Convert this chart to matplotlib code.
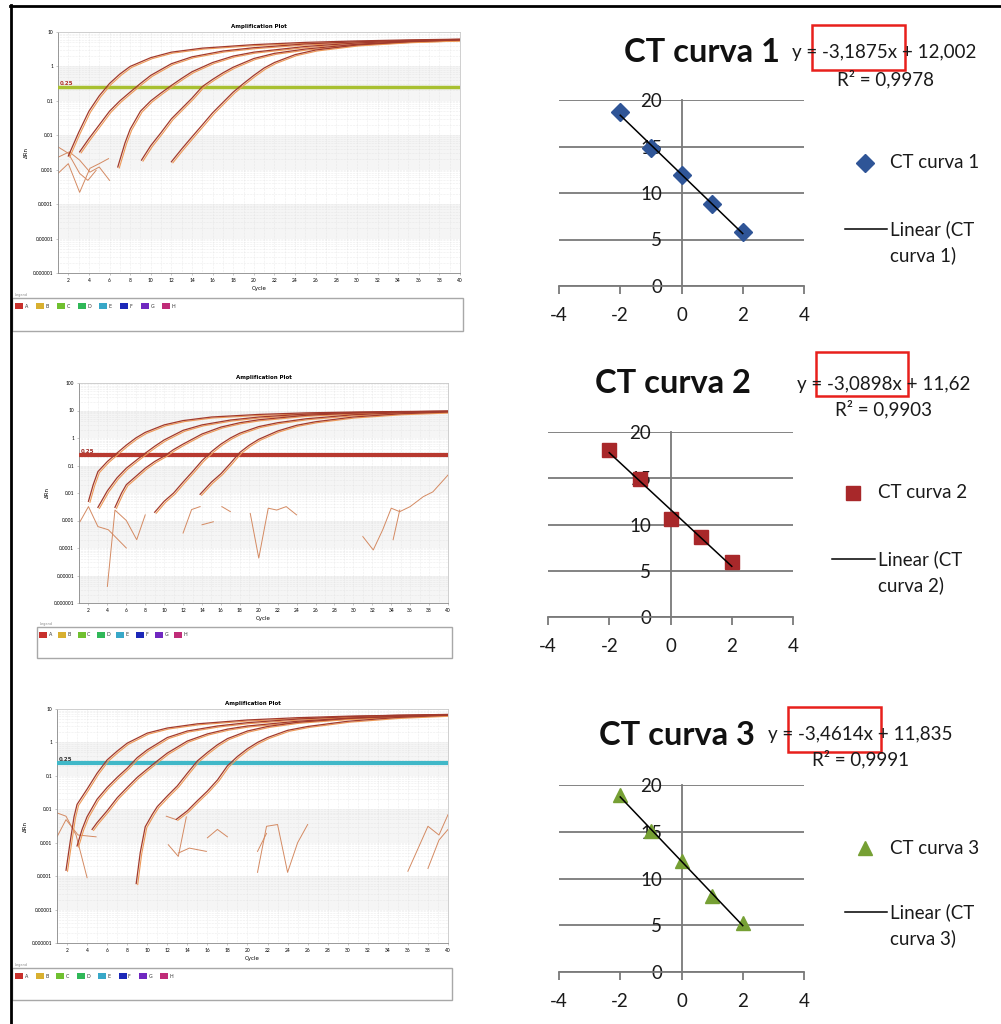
import numpy as np
import matplotlib
matplotlib.use('Agg')
import matplotlib.pyplot as plt
from matplotlib.patches import Rectangle
from matplotlib.ticker import LogLocator, NullFormatter
from matplotlib.transforms import offset_copy

plt.rcParams['font.family'] = ['Lato', 'DejaVu Sans']

W, H = 1001, 1024

# ---- amplification plot 1 (dRn vs cycle) ----
p1_c1_x = [2, 3, 4, 5, 6, 7, 8, 10, 12, 15, 20, 25, 30, 35, 40]
p1_c1_y = [0.0025, 0.012, 0.05, 0.14, 0.32, 0.6, 1.0, 1.8, 2.6, 3.4, 4.3, 5.0, 5.5, 5.9, 6.2]
p1_c2_x = [3.1, 4, 5, 6, 7, 8, 9, 10, 12, 14, 17, 20, 25, 30, 35, 40]
p1_c2_y = [0.0033, 0.008, 0.02, 0.05, 0.1, 0.18, 0.32, 0.55, 1.2, 1.9, 2.8, 3.5, 4.5, 5.2, 5.7, 6.1]
p1_c3_x = [6.8, 7.5, 8, 9, 10, 11, 12, 13, 14, 16, 18, 20, 25, 30, 35, 40]
p1_c3_y = [0.0012, 0.006, 0.015, 0.05, 0.1, 0.17, 0.28, 0.45, 0.7, 1.3, 2.0, 2.6, 3.8, 4.8, 5.5, 6.0]
p1_c4_x = [9.1, 10, 11, 12, 13, 14, 15, 16, 17, 18, 20, 22, 25, 30, 35, 40]
p1_c4_y = [0.0019, 0.005, 0.012, 0.03, 0.06, 0.12, 0.26, 0.42, 0.65, 0.95, 1.7, 2.4, 3.2, 4.4, 5.3, 5.9]
p1_c5_x = [12, 13, 14, 15, 16, 17, 18, 19, 20, 21, 22, 24, 26, 30, 35, 40]
p1_c5_y = [0.0017, 0.004, 0.009, 0.02, 0.045, 0.09, 0.18, 0.32, 0.55, 0.9, 1.3, 2.2, 3.0, 4.2, 5.2, 5.9]
p1_n1_x = [1, 2, 3.1, 3.9, 4.7]
p1_n1_y = [0.0046, 0.003, 0.00078, 0.00049, 0.00096]
p1_n2_x = [1, 2.1, 3.1, 4.1, 5.0, 6.0]
p1_n2_y = [0.0023, 0.0033, 0.0019, 0.00085, 0.0012, 0.00049]
p1_n3_x = [1, 2.0, 3.1, 4.1, 5.0, 5.9]
p1_n3_y = [0.00078, 0.0015, 0.00022, 0.0011, 0.0015, 0.0021]

# ---- amplification plot 2 ----
p2_c1_x = [2, 2.5, 3, 4, 5, 6, 7, 8, 10, 12, 15, 20, 25, 30, 35, 40]
p2_c1_y = [0.005, 0.02, 0.06, 0.14, 0.28, 0.55, 1.0, 1.6, 3.0, 4.3, 5.8, 7.2, 8.2, 8.8, 9.2, 9.5]
p2_c2_x = [3, 4, 5, 6, 7, 8, 9, 10, 12, 14, 17, 20, 25, 30, 35, 40]
p2_c2_y = [0.003, 0.012, 0.035, 0.08, 0.15, 0.28, 0.5, 0.85, 1.9, 3.0, 4.5, 5.8, 7.4, 8.4, 9.0, 9.4]
p2_c3_x = [4.8, 5.5, 6, 7, 8, 9, 10, 11, 12, 14, 16, 18, 20, 25, 30, 35, 40]
p2_c3_y = [0.003, 0.01, 0.02, 0.04, 0.08, 0.14, 0.22, 0.38, 0.6, 1.4, 2.5, 3.6, 4.6, 6.7, 8.0, 8.9, 9.4]
p2_c4_x = [9, 10, 11, 12, 13, 14, 15, 16, 17, 18, 20, 22, 25, 30, 35, 40]
p2_c4_y = [0.002, 0.005, 0.01, 0.025, 0.06, 0.15, 0.32, 0.6, 1.0, 1.5, 2.6, 3.6, 5.0, 7.0, 8.3, 9.2]
p2_c5_x = [13.8, 15, 16, 17, 18, 19, 20, 22, 24, 26, 30, 35, 40]
p2_c5_y = [0.009, 0.025, 0.05, 0.12, 0.3, 0.55, 0.9, 1.8, 2.9, 3.9, 5.8, 7.6, 8.8]
p2_n1_x = [1.1, 2.0, 3.0, 4.1, 6.0]
p2_n1_y = [0.0009, 0.0032, 0.0006, 0.00046, 0.0001]
p2_n2_x = [4.0, 4.8, 6.0, 7.1, 8.0]
p2_n2_y = [4e-6, 0.0024, 0.001, 0.0002, 0.0016]
p2_n3_x = [12.0, 12.9, 13.8]
p2_n3_y = [0.00035, 0.0025, 0.0032]
p2_n4_x = [14.0, 15.2]
p2_n4_y = [0.0007, 0.0009]
p2_n5_x = [16.1, 17.0]
p2_n5_y = [0.0032, 0.0021]
p2_n6_x = [19.1, 20.0, 21.0, 21.9, 22.9, 24.0]
p2_n6_y = [0.0018, 4.3e-5, 0.0028, 0.0024, 0.0032, 0.0016]
p2_n7_x = [31.0, 32.1, 33.1, 34.0, 34.9, 36.0, 37.4, 38.4, 40]
p2_n7_y = [0.00026, 8.5e-5, 0.00046, 0.0028, 0.0021, 0.0032, 0.0074, 0.011, 0.045]
p2_n8_x = [34.2, 34.9]
p2_n8_y = [0.0002, 0.0024]

# ---- amplification plot 3 ----
p3_c1_x = [1.9, 2.3, 2.7, 3, 4, 5, 6, 7, 8, 10, 12, 15, 20, 25, 30, 35, 40]
p3_c1_y = [0.00015, 0.001, 0.006, 0.014, 0.04, 0.12, 0.3, 0.55, 0.95, 1.9, 2.7, 3.6, 4.7, 5.5, 6.1, 6.5, 6.8]
p3_c2_x = [3, 3.5, 4, 5, 6, 7, 8, 9, 10, 12, 14, 17, 20, 25, 30, 35, 40]
p3_c2_y = [0.0008, 0.0025, 0.006, 0.02, 0.045, 0.09, 0.17, 0.35, 0.6, 1.4, 2.2, 3.1, 3.9, 5.0, 5.9, 6.5, 6.9]
p3_c3_x = [4.5, 5, 6, 7, 8, 9, 10, 11, 12, 14, 16, 18, 20, 25, 30, 35, 40]
p3_c3_y = [0.0025, 0.004, 0.009, 0.022, 0.045, 0.09, 0.16, 0.28, 0.48, 1.1, 1.8, 2.5, 3.1, 4.3, 5.3, 6.1, 6.7]
p3_c4_x = [8.9, 9.3, 9.8, 10.5, 11, 12, 13, 14, 15, 16, 17, 18, 20, 22, 25, 30, 35, 40]
p3_c4_y = [0.00006, 0.0005, 0.003, 0.007, 0.012, 0.025, 0.05, 0.12, 0.28, 0.5, 0.85, 1.3, 2.2, 3.0, 4.0, 5.2, 6.0, 6.7]
p3_c5_x = [12.9, 14, 15, 16, 17, 18, 19, 20, 21, 22, 24, 26, 30, 35, 40]
p3_c5_y = [0.005, 0.009, 0.018, 0.035, 0.075, 0.2, 0.38, 0.65, 1.0, 1.4, 2.3, 3.0, 4.3, 5.6, 6.5]
p3_n1_x = [1, 1.9, 2.9, 4.0]
p3_n1_y = [0.0078, 0.0062, 0.0017, 9e-5]
p3_n2_x = [1, 1.9, 3.1, 4.9]
p3_n2_y = [0.0015, 0.0049, 0.0017, 0.0015]
p3_n3_x = [12.1, 13.1, 13.9]
p3_n3_y = [0.00087, 0.00039, 0.0059]
p3_n4_x = [11.9, 12.9]
p3_n4_y = [0.0062, 0.0049]
p3_n5_x = [13.1, 14.2, 15.9]
p3_n5_y = [0.00049, 0.00069, 0.00055]
p3_n6_x = [16.0, 17.0, 18.0]
p3_n6_y = [0.0014, 0.0025, 0.0015]
p3_n7_x = [21.0, 21.9, 23.0, 24.0, 25.0, 26.0]
p3_n7_y = [0.00013, 0.0031, 0.0035, 0.00013, 0.001, 0.0035]
p3_n8_x = [21.0, 21.9]
p3_n8_y = [0.00055, 0.0019]
p3_n9_x = [36.0, 38.0, 39.1, 40]
p3_n9_y = [0.00014, 0.0031, 0.0017, 0.0069]
p3_n10_x = [38.0, 39.1, 40]
p3_n10_y = [0.00017, 0.0012, 0.0025]

threshold = 0.25
well_letters = ['A', 'B', 'C', 'D', 'E', 'F', 'G', 'H']
well_colors = ['#c8302c', '#d8b030', '#70c030', '#30b858', '#38a8c8', '#1c28b8', '#7028c0', '#c02c78']

# ---- standard curves (CT vs log dilution) ----
log_dil = np.array([-2, -1, 0, 1, 2])
ct1 = np.array([18.7, 14.8, 11.9, 8.8, 5.8])
ct2 = np.array([18.1, 14.9, 10.6, 8.6, 5.9])
ct3 = np.array([18.9, 15.1, 11.9, 8.1, 5.2])
eq_texts = ['y = -3,1875x + 12,002', 'y = -3,0898x + 11,62', 'y = -3,4614x + 11,835']
r2_texts = ['R² = 0,9978', 'R² = 0,9903', 'R² = 0,9991']
titles = ['CT curva 1', 'CT curva 2', 'CT curva 3']

fig = plt.figure(figsize=(W / 100, H / 100), dpi=100)


def rect(l, t, r, b):
    return [l / W, 1 - b / H, (r - l) / W, (b - t) / H]


def dec_label(e):
    if e >= 0:
        return str(10 ** e)
    return '0.' + '0' * (-e - 1) + '1'


def amp_plot(box, ymin, ymax, curves, noise, thr_color, thr_lw, lbl_color):
    ax = fig.add_axes(rect(*box))
    ax.set_yscale('log')
    ax.set_xlim(1, 40)
    ax.set_ylim(10.0 ** ymin, 10.0 ** ymax)
    for e in range(ymin, ymax):
        if (ymax - e) % 2 == 0:
            ax.axhspan(10.0 ** e, 10.0 ** (e + 1), color='#f5f5f5', lw=0, zorder=0)
    ax.set_xticks(range(2, 41, 2))
    ax.set_xticks(range(1, 41), minor=True)
    ax.set_yticks([10.0 ** e for e in range(ymin, ymax + 1)])
    ax.set_yticklabels([dec_label(e) for e in range(ymin, ymax + 1)])
    ax.yaxis.set_minor_locator(LogLocator(subs=range(2, 10)))
    ax.yaxis.set_minor_formatter(NullFormatter())
    ax.grid(True, which='both', color='#dcdcdc', lw=0.4, ls=':')
    ax.tick_params(labelsize=3.5, length=1.5, width=0.4, color='#999999', pad=2)
    ax.tick_params(which='minor', length=0)
    for s in ax.spines.values():
        s.set_color('#c8c8c8')
        s.set_linewidth(0.6)
    ax.spines['left'].set_color('#888888')
    ax.spines['bottom'].set_color('#888888')
    ax.axhline(threshold, color=thr_color, lw=thr_lw, zorder=3)
    ax.text(1.2, threshold * 1.12, '0.25', fontsize=4, color=lbl_color,
            fontweight='bold', family='DejaVu Sans', zorder=4)
    shifted = offset_copy(ax.transData, fig=fig, x=1.5, y=-1.0, units='dots')
    for xs, ys in noise:
        ax.plot(xs, ys, color='#d48a62', lw=0.7, zorder=2)
    for xs, ys in curves:
        ax.plot(xs, ys, color='#ee9a58', lw=0.8, transform=shifted, zorder=4)
        ax.plot(xs, ys, color='#a23a2c', lw=0.9, zorder=5)
    ax.set_title('Amplification Plot', fontsize=4, pad=3, family='DejaVu Sans', fontweight='bold')
    ax.set_xlabel('Cycle', fontsize=4, labelpad=2, family='DejaVu Sans')
    ax.set_ylabel('ΔRn', fontsize=4, labelpad=3, family='DejaVu Sans')
    return ax


def well_legend(ov, l, t, r, b, x0, step):
    ov.add_patch(Rectangle((l, t), r - l, b - t, fill=False, edgecolor='#a8a8a8', lw=1.0))
    ov.text(l + 3, t - 1, 'Legend', fontsize=2.5, color='#888888', va='bottom',
            family='DejaVu Sans')
    for i, (lt, c) in enumerate(zip(well_letters, well_colors)):
        x = x0 + i * step
        ov.add_patch(Rectangle((x, t + 5), 8, 6, color=c, lw=0))
        ov.text(x + 9.5, t + 8, lt, fontsize=3.5, va='center', family='DejaVu Sans',
                color='#333333')


def ct_chart(box, xs, ys, marker, ms, color):
    ax = fig.add_axes(rect(*box))
    ax.set_xlim(-4, 4)
    ax.set_ylim(0, 20)
    ax.patch.set_alpha(0)
    ax.set_xticks([-4, -2, 0, 2, 4])
    ax.set_yticks([0, 5, 10, 15, 20])
    ax.grid(True, axis='y', color='#7a7a7a', lw=1.3)
    ax.set_axisbelow(True)
    ax.spines['top'].set_visible(False)
    ax.spines['right'].set_visible(False)
    ax.spines['left'].set_position(('data', 0))
    for s in ('left', 'bottom'):
        ax.spines[s].set_color('#7a7a7a')
        ax.spines[s].set_linewidth(1.3)
    ax.tick_params(axis='y', length=0, pad=14, labelsize=13.5, labelcolor='#1a1a1a')
    ax.tick_params(axis='x', length=6, width=1.3, direction='out', color='#7a7a7a',
                   pad=9, labelsize=13.5, labelcolor='#1a1a1a')
    ax.set_xticklabels([str(v) for v in [-4, -2, 0, 2, 4]])
    ax.plot(xs, ys, ls='none', marker=marker, ms=ms, color=color, zorder=3, clip_on=False)
    p = np.polyfit(xs, ys, 1)
    xx = np.array([xs.min(), xs.max()])
    ax.plot(xx, np.polyval(p, xx), color='black', lw=1.1, zorder=4)
    return ax


amp_plot((58, 32, 460, 273), -6, 1,
         [(p1_c1_x, p1_c1_y), (p1_c2_x, p1_c2_y), (p1_c3_x, p1_c3_y),
          (p1_c4_x, p1_c4_y), (p1_c5_x, p1_c5_y)],
         [(p1_n1_x, p1_n1_y), (p1_n2_x, p1_n2_y), (p1_n3_x, p1_n3_y)],
         '#a8c030', 2.5, '#b03028')
amp_plot((79, 383, 448, 603), -6, 2,
         [(p2_c1_x, p2_c1_y), (p2_c2_x, p2_c2_y), (p2_c3_x, p2_c3_y),
          (p2_c4_x, p2_c4_y), (p2_c5_x, p2_c5_y)],
         [(p2_n1_x, p2_n1_y), (p2_n2_x, p2_n2_y), (p2_n3_x, p2_n3_y), (p2_n4_x, p2_n4_y),
          (p2_n5_x, p2_n5_y), (p2_n6_x, p2_n6_y), (p2_n7_x, p2_n7_y), (p2_n8_x, p2_n8_y)],
         '#b83a30', 3.0, '#a02820')
amp_plot((57, 709, 448, 943), -6, 1,
         [(p3_c1_x, p3_c1_y), (p3_c2_x, p3_c2_y), (p3_c3_x, p3_c3_y),
          (p3_c4_x, p3_c4_y), (p3_c5_x, p3_c5_y)],
         [(p3_n1_x, p3_n1_y), (p3_n2_x, p3_n2_y), (p3_n3_x, p3_n3_y), (p3_n4_x, p3_n4_y),
          (p3_n5_x, p3_n5_y), (p3_n6_x, p3_n6_y), (p3_n7_x, p3_n7_y), (p3_n8_x, p3_n8_y),
          (p3_n9_x, p3_n9_y), (p3_n10_x, p3_n10_y)],
         '#40b8c8', 3.0, '#333333')

ct_chart((559, 100, 804, 286), log_dil, ct1, 'D', 9, '#2f5597')
ct_chart((548, 432, 793, 617), log_dil, ct2, 's', 10.5, '#a8282a')
ct_chart((559, 785, 804, 972), log_dil, ct3, '^', 10.5, '#76a034')

# overlay in pixel coordinates for frame, texts and legends
ov = fig.add_axes([0, 0, 1, 1], zorder=10)
ov.set_xlim(0, W)
ov.set_ylim(H, 0)
ov.axis('off')
ov.patch.set_alpha(0)

ov.plot([10, W], [5.5, 5.5], color='black', lw=2)
ov.plot([10.5, 10.5], [5, H], color='black', lw=2)

well_legend(ov, 12, 298, 463, 331, 15, 21)
well_legend(ov, 37, 627, 452, 658, 39, 19.3)
well_legend(ov, 12, 968, 452, 1000, 15, 20.7)

layout = [
    dict(tx=702, ty=62, ex=792, ey=58, rx=837, ry=85, box=(812, 25, 905, 70),
         mx=865, my=163, lx0=845, lx1=887, ly=229, txx=890, m='D', ms=9, c='#2f5597'),
    dict(tx=673, ty=393, ex=797, ey=390, rx=835, ry=415, box=(816, 352, 908, 396),
         mx=853, my=493, lx0=832, lx1=875, ly=559, txx=878, m='s', ms=10, c='#a8282a'),
    dict(tx=677, ty=745, ex=768, ey=740, rx=812, ry=765, box=(788, 707, 881, 752),
         mx=865, my=848, lx0=845, lx1=887, ly=912, txx=890, m='^', ms=10, c='#76a034'),
]
for i, L in enumerate(layout):
    ov.text(L['tx'], L['ty'], titles[i], fontsize=23.5, fontweight='bold', ha='center',
            va='baseline', color='#111111')
    ov.text(L['ex'], L['ey'], eq_texts[i], fontsize=13.5, va='baseline', color='#1a1a1a')
    ov.text(L['rx'], L['ry'], r2_texts[i], fontsize=13.5, va='baseline', color='#1a1a1a')
    l, t, r, b = L['box']
    ov.add_patch(Rectangle((l, t), r - l, b - t, fill=False, edgecolor='#e8201c', lw=1.8))
    ov.plot([L['mx']], [L['my']], marker=L['m'], ms=L['ms'], color=L['c'], ls='none')
    ov.text(L['txx'], L['my'], titles[i], fontsize=13.5, va='center', color='#1a1a1a')
    ov.plot([L['lx0'], L['lx1']], [L['ly'], L['ly']], color='black', lw=1.1)
    ov.text(L['txx'], L['ly'], 'Linear (CT', fontsize=13.5, va='center', color='#1a1a1a')
    ov.text(L['txx'], L['ly'] + 26, 'curva %d)' % (i + 1), fontsize=13.5, va='center',
            color='#1a1a1a')

fig.savefig('out.png', dpi=100)
